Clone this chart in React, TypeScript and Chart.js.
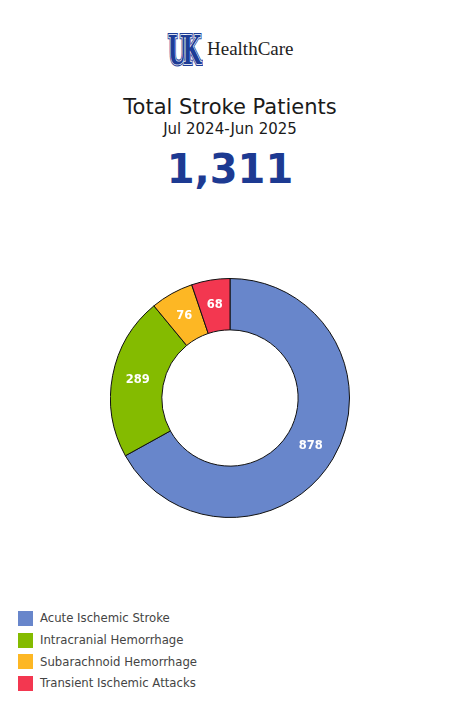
import React, { useEffect, useRef } from "react";
import { Chart, registerables } from "chart.js";

Chart.register(...registerables);

const categories = [
  "Acute Ischemic Stroke",
  "Intracranial Hemorrhage",
  "Subarachnoid Hemorrhage",
  "Transient Ischemic Attacks",
];
const patientCounts = [878, 289, 76, 68];
const sliceColors = ["#6886CB", "#84BB00", "#FDB724", "#F33750"];
const titleText = "Total Stroke Patients";
const periodText = "Jul 2024-Jun 2025";

const totalPatients = patientCounts.reduce((a, b) => a + b, 0);

const sliceLabelPlugin = {
  id: "sliceLabels",
  afterDatasetsDraw(chart: any) {
    const ctx = chart.ctx;
    const meta = chart.getDatasetMeta(0);
    ctx.save();
    ctx.fillStyle = "#ffffff";
    ctx.font = "bold 11.5px 'DejaVu Sans'";
    ctx.textAlign = "center";
    ctx.textBaseline = "middle";
    meta.data.forEach((arc: any, i: number) => {
      const p = arc.getCenterPoint();
      ctx.fillText(String(chart.data.datasets[0].data[i]), p.x, p.y);
    });
    ctx.restore();
  },
};

const logoBase: React.CSSProperties = {
  position: "absolute",
  left: 0,
  top: 0,
  fontFamily: "'DejaVu Serif', serif",
  fontWeight: "bold",
  fontSize: 40,
  lineHeight: 1,
  letterSpacing: -7,
  whiteSpace: "nowrap",
};

export default function App() {
  const canvasRef = useRef<HTMLCanvasElement | null>(null);

  useEffect(() => {
    if (!canvasRef.current) return;
    Chart.defaults.font.family = "'DejaVu Sans'";
    const chart = new Chart(canvasRef.current, {
      type: "doughnut",
      data: {
        labels: categories,
        datasets: [
          {
            data: patientCounts,
            backgroundColor: sliceColors,
            borderColor: "#111111",
            borderWidth: 1,
          },
        ],
      },
      options: {
        animation: false,
        responsive: true,
        maintainAspectRatio: false,
        cutout: "57%",
        layout: { padding: 0 },
        plugins: {
          legend: { display: false },
          tooltip: { enabled: false },
        },
      },
      plugins: [sliceLabelPlugin],
    });
    return () => chart.destroy();
  }, []);

  const font = "'DejaVu Sans', sans-serif";

  return (
    <div style={{ position: "relative", width: 444, height: 697, fontFamily: font }}>
      {/* Logo */}
      <div
        style={{
          position: "absolute",
          left: 160,
          top: 22,
          width: 80,
          height: 45,
          transform: "scaleX(0.53)",
          transformOrigin: "left top",
        }}
      >
        <div style={{ ...logoBase, color: "#1D3C96", WebkitTextStroke: "4px #1D3C96" }}>UK</div>
        <div style={{ ...logoBase, color: "#1D3C96", WebkitTextStroke: "1.6px #ffffff" }}>UK</div>
        <div style={{ ...logoBase, color: "#1D3C96" }}>UK</div>
      </div>
      <div
        style={{
          position: "absolute",
          left: 199,
          top: 31.1,
          fontFamily: "'Liberation Serif', serif",
          fontSize: 19,
          lineHeight: 1,
          color: "#222",
          whiteSpace: "nowrap",
        }}
      >
        HealthCare
      </div>

      {/* Titles */}
      <div
        style={{
          position: "absolute",
          left: 0,
          width: 444,
          top: 89.2,
          textAlign: "center",
          fontSize: 21,
          lineHeight: 1,
          color: "#1a1a1a",
        }}
      >
        {titleText}
      </div>
      <div
        style={{
          position: "absolute",
          left: 0,
          width: 444,
          top: 114.3,
          textAlign: "center",
          fontSize: 15,
          lineHeight: 1,
          color: "#1a1a1a",
        }}
      >
        {periodText}
      </div>
      <div
        style={{
          position: "absolute",
          left: 0,
          width: 444,
          top: 140.9,
          textAlign: "center",
          fontSize: 40,
          fontWeight: "bold",
          lineHeight: 1,
          color: "#1D3A92",
        }}
      >
        {totalPatients.toLocaleString("en-US")}
      </div>

      {/* Chart */}
      <div style={{ position: "absolute", left: 102, top: 270, width: 240, height: 240 }}>
        <canvas ref={canvasRef} />
      </div>

      {/* Legend */}
      <div style={{ position: "absolute", left: 10, top: 599.5 }}>
        {categories.map((c, i) => (
          <div
            key={c}
            style={{ display: "flex", alignItems: "center", height: 21.7 }}
          >
            <span
              style={{
                display: "inline-block",
                width: 15,
                height: 15,
                background: sliceColors[i],
                marginRight: 7,
              }}
            />
            <span style={{ fontSize: 11.7, color: "#444", whiteSpace: "nowrap" }}>{c}</span>
          </div>
        ))}
      </div>
    </div>
  );
}
